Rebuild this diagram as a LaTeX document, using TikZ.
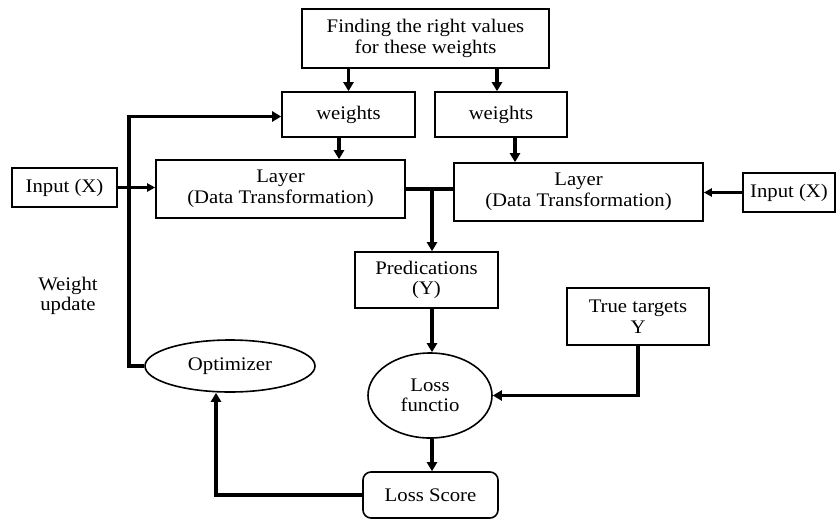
\documentclass[tikz,border=0pt]{standalone}
\usepackage{fontspec}
\setmainfont{Liberation Serif}[FakeStretch=1.08]
\usetikzlibrary{arrows.meta,shapes.geometric}
\begin{document}
\begin{tikzpicture}[x=1pt,y=-1pt,
  font=\fontsize{19.2}{20.5}\selectfont,
  box/.style={draw,line width=1.6pt,inner sep=0pt,align=center},
  oval/.style={draw,ellipse,line width=1.6pt,inner sep=0pt,align=center},
  arr/.style={line width=3.3pt,-{Triangle[length=9pt,width=10pt]}},
  arrthin/.style={line width=2.3pt,-{Triangle[length=8pt,width=8pt]}},
  link/.style={line width=3.3pt}]
\useasboundingbox (0,0) rectangle (838,520);
\node[box,minimum width=247pt,minimum height=59pt] (find) at (425.5,38.5) {Finding the right values\\for these weights};
\node[box,minimum width=133pt,minimum height=45pt] (w1) at (348.5,114.5) {weights};
\node[box,minimum width=132pt,minimum height=45pt] (w2) at (501,114.5) {weights};
\node[box,minimum width=249pt,minimum height=58pt] (L1) at (280.5,189) {Layer\\(Data Transformation)};
\node[box,minimum width=249pt,minimum height=58pt] (L2) at (578.5,192) {Layer\\(Data Transformation)};
\node[box,minimum width=105pt,minimum height=39pt] (inL) at (64.5,187.5) {Input (X)};
\node[box,minimum width=92pt,minimum height=39pt] (inR) at (789,192.5) {Input (X)};
\node[box,minimum width=143pt,minimum height=56pt] (pred) at (426.5,280) {Predications\\(Y)};
\node[box,minimum width=142pt,minimum height=57pt] (true) at (638,316.5) {True targets\\Y};
\node[oval,minimum width=124pt,minimum height=85pt] (loss) at (430,395.5) {Loss\\functio};
\node[oval,minimum width=170pt,minimum height=52pt] (opt) at (230,366) {Optimizer};
\node[box,rounded corners=8pt,minimum width=135pt,minimum height=46pt] (score) at (430.5,495) {Loss Score};
\node[align=center] (wu) at (68,296) {Weight\\update};
\coordinate (fb) at (129,0);
\coordinate (j) at (432,189);
% connectors
\draw[arr] (w1.north |- find.south) -- (w1.north);
\draw[arr] ([xshift=-4pt]w2.north |- find.south) -- ([xshift=-4pt]w2.north);
\draw[arr] ([xshift=-9.5pt]w1.south) -- ([xshift=-9.5pt]w1.south |- L1.north);
\draw[arr] ([xshift=14pt]w2.south) -- ([xshift=14pt]w2.south |- L2.north);
\draw[arrthin] (inL.east) -- (inL.east -| L1.west);
\draw[arrthin] (inR.west) -- (inR.west -| L2.east);
\draw[arr] (opt.west) -- (opt.west -| fb) |- ([yshift=-2pt]w1.west);
\draw[link] (L1.east) -- (L1.east -| L2.west);
\draw[arr] (j) -- (j |- pred.north);
\draw[arr] (pred.south -| j) -- (loss.north -| j);
\draw[arr] (true.south) |- (loss.east);
\draw[arr] (loss.south -| j) -- (score.north -| j);
\draw[arr] (score.west) -| ([xshift=-14pt]opt.south);
\end{tikzpicture}
\end{document}
